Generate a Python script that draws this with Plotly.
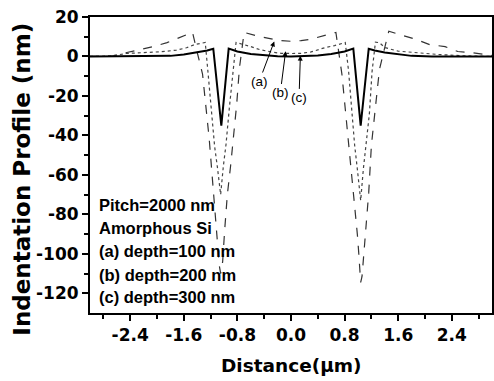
import plotly.graph_objects as go

# ---- data ----
x_a = [-3.0, -2.65, -2.45, -2.25, -2.06, -1.85, -1.66, -1.47, -1.41, -1.32, -1.22, -1.17, -1.12, -1.07, -1.05,
       -1.02, -0.99, -0.95, -0.90, -0.85, -0.81, -0.77, -0.70, -0.5, -0.3, -0.15, 0.0, 0.15, 0.3, 0.5, 0.67,
       0.76, 0.83, 0.89, 0.94, 0.99, 1.01, 1.04, 1.06, 1.10, 1.16, 1.20, 1.26, 1.32, 1.41, 1.46, 1.63, 1.87,
       2.07, 2.3, 2.49, 2.68, 2.89, 3.0]
y_a = [0, 0.3, 2, 3.5, 5, 7, 9.6, 12.2, 3.5, -9, -42, -64, -88, -106, -110,
       -104, -88, -70, -55, -38, -24, -6, 12.2, 10.3, 8.8, 8.0, 7.7, 8.0, 8.8, 10.5, 12.2,
       -9, -33, -52, -72, -90, -99, -114.5, -111.5, -96, -69, -45, -27, -6.6, 6, 12.8, 11, 8.6,
       6, 5, 2.5, 2, 1, 0.5]

x_b = [-3.0, -2.7, -2.46, -2.16, -1.94, -1.71, -1.56, -1.44, -1.28, -1.24, -1.19, -1.14, -1.10, -1.05,
       -1.01, -0.97, -0.92, -0.87, -0.82, -0.6, -0.47, -0.3, -0.15, 0.0, 0.15, 0.3, 0.5, 0.65, 0.81,
       0.86, 0.91, 0.95, 0.99, 1.04, 1.08, 1.12, 1.17, 1.21, 1.26, 1.32, 1.4, 1.6, 1.9, 2.2, 2.6, 3.0]
y_b = [0, 0.2, 1.5, 1.9, 2.4, 3.2, 4.4, 6.0, 7.1, -7.6, -29, -45.6, -55.7, -70,
       -55.7, -44.6, -26, -7.6, 7.1, 5.0, 3.5, 2.3, 1.6, 1.5, 1.6, 2.3, 4.4, 5.5, 7.1,
       -7.6, -29, -45, -57, -73, -57, -45, -29, -7.6, 7.2, 7, 4.5, 2.7, 1.8, 1, 0.3, 0]

x_c = [-3.0, -2.1, -1.8, -1.6, -1.4, -1.25, -1.16, -1.04, -0.93, -0.8, -0.6, -0.4, -0.2, 0.0,
       0.2, 0.4, 0.6, 0.8, 0.93, 1.04, 1.16, 1.25, 1.4, 1.6, 1.8, 2.1, 3.0]
y_c = [0, 0, 0.3, 1.0, 2.0, 3.0, 3.9, -35, 4.0, 2.5, 1.2, 0.5, 0.1, 0,
       0.1, 0.5, 1.2, 2.5, 4.0, -35, 3.9, 3.0, 2.0, 1.0, 0.3, 0, 0]

x_tickvals = [-2.4, -1.6, -0.8, 0.0, 0.8, 1.6, 2.4]
x_ticktext = ["-2.4", "-1.6", "-0.8", "0.0", "0.8", "1.6", "2.4"]
x_minor = [-2.8, -2.0, -1.2, -0.4, 0.4, 1.2, 2.0, 2.8]
y_tickvals = [20, 0, -20, -40, -60, -80, -100, -120]
y_ticktext = ["20", "0", "-20", "-40", "-60", "-80", "-100", "-120"]
y_minor = [10, -10, -30, -50, -70, -90, -110]

info_lines = ["Pitch=2000 nm", "Amorphous Si", "(a) depth=100 nm", "(b) depth=200 nm", "(c) depth=300 nm"]
info_y = [-75.5, -86.7, -98.8, -110.5, -122.1]

labels = ["(a)", "(b)", "(c)"]
label_pos = [(-0.475, -12.7), (-0.16, -18.5), (0.12, -21.0)]
arrow_head = [(-0.25, 7.6), (-0.08, 2.7), (0.14, 0.4)]

fig = go.Figure()
fig.add_trace(go.Scatter(x=x_a, y=y_a, mode="lines", line=dict(color="#333333", width=1.2, dash="dash"), name="(a)"))
fig.add_trace(go.Scatter(x=x_b, y=y_b, mode="lines", line=dict(color="#444444", width=1.2, dash="dot"), name="(b)"))
fig.add_trace(go.Scatter(x=x_c, y=y_c, mode="lines", line=dict(color="black", width=2), name="(c)"))

tickfont = dict(family="DejaVu Sans", size=17, color="black", weight="bold")

fig.update_xaxes(range=[-3, 3], showline=True, linewidth=2, linecolor="black", mirror=True,
                 ticks="outside", ticklen=6, tickwidth=1.5, tickcolor="black",
                 tickvals=x_tickvals, ticktext=x_ticktext, tickfont=tickfont,
                 minor=dict(tickvals=x_minor, ticks="outside", ticklen=4, tickwidth=1.5, tickcolor="black"),
                 showgrid=False, zeroline=False)
fig.update_yaxes(range=[-130, 20], showline=True, linewidth=2, linecolor="black", mirror=True,
                 ticks="outside", ticklen=6, tickwidth=1.5, tickcolor="black",
                 tickvals=y_tickvals, ticktext=y_ticktext, tickfont=tickfont,
                 minor=dict(tickvals=y_minor, ticks="outside", ticklen=4, tickwidth=1.5, tickcolor="black"),
                 showgrid=False, zeroline=False)

annotations = []
for txt, yy in zip(info_lines, info_y):
    annotations.append(dict(x=-2.9, y=yy, xref="x", yref="y", text=txt, showarrow=False,
                            xanchor="left", yanchor="middle",
                            font=dict(family="Liberation Sans", size=16.5, color="black", weight="bold")))
for txt, (tx, ty), (hx, hy) in zip(labels, label_pos, arrow_head):
    annotations.append(dict(x=hx, y=hy, xref="x", yref="y", ax=tx, ay=ty, axref="x", ayref="y",
                            text=txt, showarrow=True, arrowhead=2, arrowsize=1, arrowwidth=1,
                            arrowcolor="black", standoff=0,
                            font=dict(family="Liberation Sans", size=13.5, color="black")))
annotations.append(dict(x=-0.168, y=0.452, xref="paper", yref="paper", text="Indentation Profile (nm)",
                        showarrow=False, textangle=-90, xanchor="center", yanchor="middle",
                        font=dict(family="DejaVu Sans", size=23, color="black", weight="bold")))
annotations.append(dict(x=0.5, y=-0.176, xref="paper", yref="paper", text="Distance(\u03bcm)",
                        showarrow=False, xanchor="center", yanchor="middle",
                        font=dict(family="DejaVu Sans", size=18.5, color="black", weight="bold")))

fig.update_layout(width=494, height=381, margin=dict(l=90, r=0, t=17, b=68),
                  paper_bgcolor="white", plot_bgcolor="white", showlegend=False,
                  annotations=annotations)

fig.write_html("out.html")
